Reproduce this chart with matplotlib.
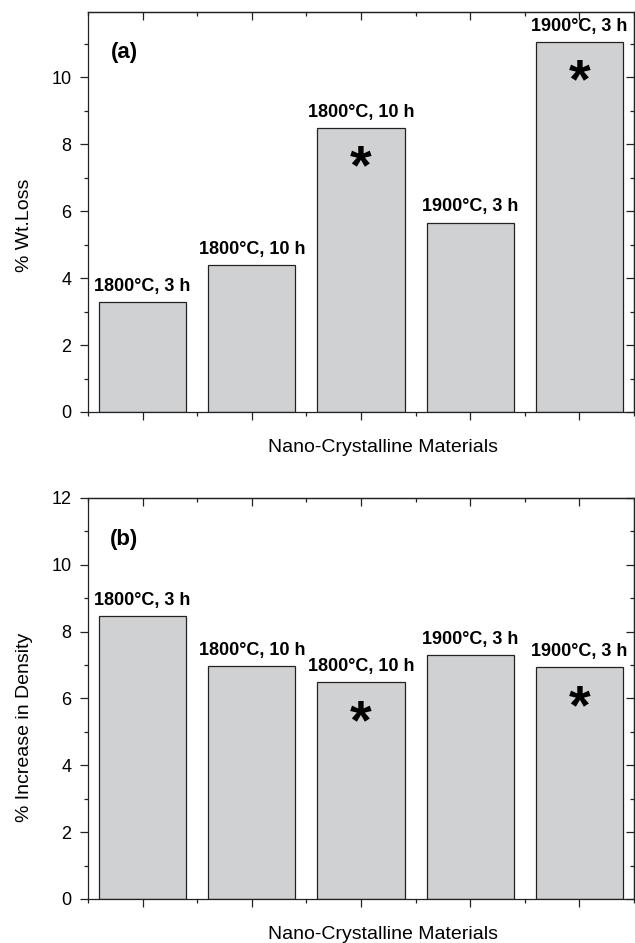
import matplotlib
matplotlib.use('Agg')
import matplotlib.pyplot as plt

plt.rcParams['font.family'] = ['Liberation Sans', 'DejaVu Sans']

positions = [1, 2, 3, 4, 5]
conditions = ['1800°C, 3 h', '1800°C, 10 h', '1800°C, 10 h', '1900°C, 3 h', '1900°C, 3 h']
starred = [False, False, True, False, True]
wt_loss = [3.29, 4.39, 8.49, 5.66, 11.05]
density_increase = [8.47, 6.96, 6.48, 7.31, 6.93]

BAR = '#d0d1d3'
INK = '#222222'
minor_x = [0.5, 1.5, 2.5, 3.5, 4.5, 5.5]


def panel(ax, values, ytop, ylabel, tag, ylab_y):
    ax.bar(positions, values, width=0.8, color=BAR, edgecolor=INK, linewidth=0.9)
    ax.set_xlim(0.5, 5.5)
    ax.set_ylim(0, ytop)
    ax.set_xticks(positions)
    ax.set_xticks(minor_x, minor=True)
    ax.set_xticklabels([])
    ax.set_yticks([0, 2, 4, 6, 8, 10, 12][:6 if ytop < 12 else 7])
    ax.set_yticks(range(1, 12, 2), minor=True)
    ax.tick_params(which='both', direction='out', width=0.9, color=INK, labelsize=13, pad=6)
    ax.tick_params(which='major', length=6)
    ax.tick_params(which='minor', length=3)
    for s in ax.spines.values():
        s.set_linewidth(0.9)
        s.set_color(INK)

    # top and right ticks point inward
    top = ax.secondary_xaxis('top')
    top.set_xticks(positions)
    top.set_xticks(minor_x, minor=True)
    top.set_xticklabels([])
    top.tick_params(which='both', direction='in', width=0.9, color=INK)
    top.tick_params(which='major', length=6)
    top.tick_params(which='minor', length=3)
    right = ax.secondary_yaxis('right')
    right.set_yticks(ax.get_yticks())
    right.set_yticks(range(1, 12, 2), minor=True)
    right.set_yticklabels([])
    right.tick_params(which='both', direction='in', width=0.9, color=INK)
    right.tick_params(which='major', length=6)
    right.tick_params(which='minor', length=3)
    for sec in (top, right):
        for s in sec.spines.values():
            s.set_linewidth(0.9)
            s.set_color(INK)

    for x, v, txt, star in zip(positions, values, conditions, starred):
        ax.annotate(txt, (x, v), xytext=(0, 8), textcoords='offset points',
                    ha='center', va='baseline', fontsize=13, fontweight='bold')
        if star:
            ax.annotate('*', (x, v), xytext=(0, -40), textcoords='offset points',
                        ha='center', va='baseline', fontsize=40, fontweight='bold')

    ax.text(0.83, 10.75, tag, ha='center', va='center', fontsize=16, fontweight='bold')
    ax.set_ylabel(ylabel, fontsize=14, va='center')
    ax.yaxis.set_label_coords(-0.117, ylab_y)
    ax.set_xlabel('Nano-Crystalline Materials', fontsize=14, va='center')
    ax.xaxis.set_label_coords(0.54, -0.088)


fig = plt.figure(figsize=(6.35, 9.43), dpi=100)
ax_a = fig.add_axes([0.1386, 0.5631, 0.8598, 0.4242])
ax_b = fig.add_axes([0.1386, 0.0467, 0.8598, 0.4252])

panel(ax_a, wt_loss, 11.95, '% Wt.Loss', '(a)', 0.466)
panel(ax_b, density_increase, 12, '% Increase in Density', '(b)', 0.428)

fig.savefig('out.png', dpi=100)
